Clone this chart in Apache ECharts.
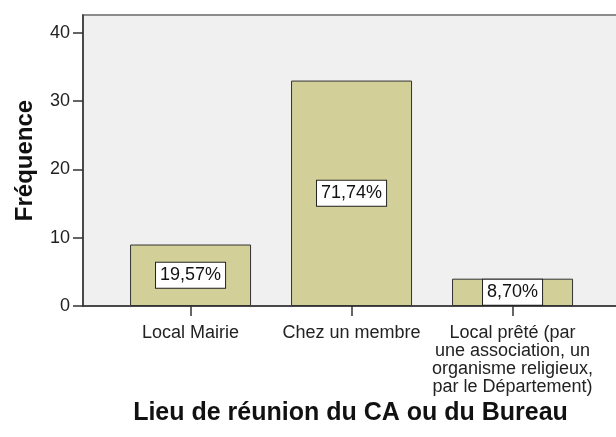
<!DOCTYPE html>
<html>
<head>
<meta charset="utf-8">
<script src="https://cdn.jsdelivr.net/npm/echarts@6/dist/echarts.min.js"></script>
<style>
  html, body { margin: 0; padding: 0; background: #fff; }
  #chart { width: 616px; height: 437px; }
</style>
</head>
<body>
<div id="chart"></div>
<script>
// données
var categories = [
  'Local Mairie',
  'Chez un membre',
  'Local prêté (par\nune association, un\norganisme religieux,\npar le Département)'
];
var frequences = [9, 33, 4];
var pourcentages = ['19,57%', '71,74%', '8,70%'];
var yTicks = [0, 10, 20, 30, 40];
var xTicks = [0, 1, 2];

var font = 'Liberation Sans, Arial, sans-serif';
var chart = echarts.init(document.getElementById('chart'));

var option = {
  backgroundColor: '#ffffff',
  animation: false,
  grid: {
    left: 83, right: -2, top: 15, bottom: 131,
    outerBoundsMode: 'none',
    containLabel: false,
    show: true, backgroundColor: '#f0f0f0',
    borderColor: '#8c8c8c', borderWidth: 2
  },
  xAxis: {
    type: 'value',
    min: -0.668,
    max: 2.655,
    axisLine: { show: true, onZero: false, lineStyle: { color: '#333', width: 1.5 } },
    axisTick: { show: true, length: 10, customValues: xTicks, lineStyle: { color: '#333', width: 1.5 } },
    axisLabel: {
      customValues: xTicks,
      formatter: function (v) { return categories[Math.round(v)]; },
      color: '#222', fontFamily: font, fontSize: 18, lineHeight: 18, margin: 18
    },
    splitLine: { show: false },
    name: 'Lieu de réunion du CA ou du Bureau',
    nameLocation: 'middle',
    nameGap: 95,
    nameTextStyle: { color: '#111', fontFamily: font, fontSize: 25, fontWeight: 'bold' }
  },
  yAxis: {
    type: 'value',
    min: 0,
    max: 42.6,
    axisLine: { show: true, onZero: false, lineStyle: { color: '#333', width: 1.5 } },
    axisTick: { show: true, length: 10, customValues: yTicks, lineStyle: { color: '#333', width: 1.5 } },
    axisLabel: { customValues: yTicks, color: '#222', fontFamily: font, fontSize: 18, margin: 13 },
    splitLine: { show: false },
    name: 'Fréquence',
    nameLocation: 'middle',
    nameGap: 46,
    nameTextStyle: { color: '#111', fontFamily: font, fontSize: 24, fontWeight: 'bold' }
  },
  series: [
    {
      type: 'bar',
      barWidth: 121,
      data: frequences.map(function (v, i) { return [i, v]; }),
      itemStyle: { color: '#d3cf99', borderColor: '#333', borderWidth: 1 },
      label: {
        show: true,
        position: 'inside',
        formatter: function (p) { return pourcentages[p.dataIndex]; },
        color: '#111',
        fontFamily: font,
        fontSize: 18,
        backgroundColor: '#ffffff',
        borderColor: '#222',
        borderWidth: 1,
        padding: [4, 4, 3, 4]
      }
    }
  ]
};

chart.setOption(option);
</script>
</body>
</html>
